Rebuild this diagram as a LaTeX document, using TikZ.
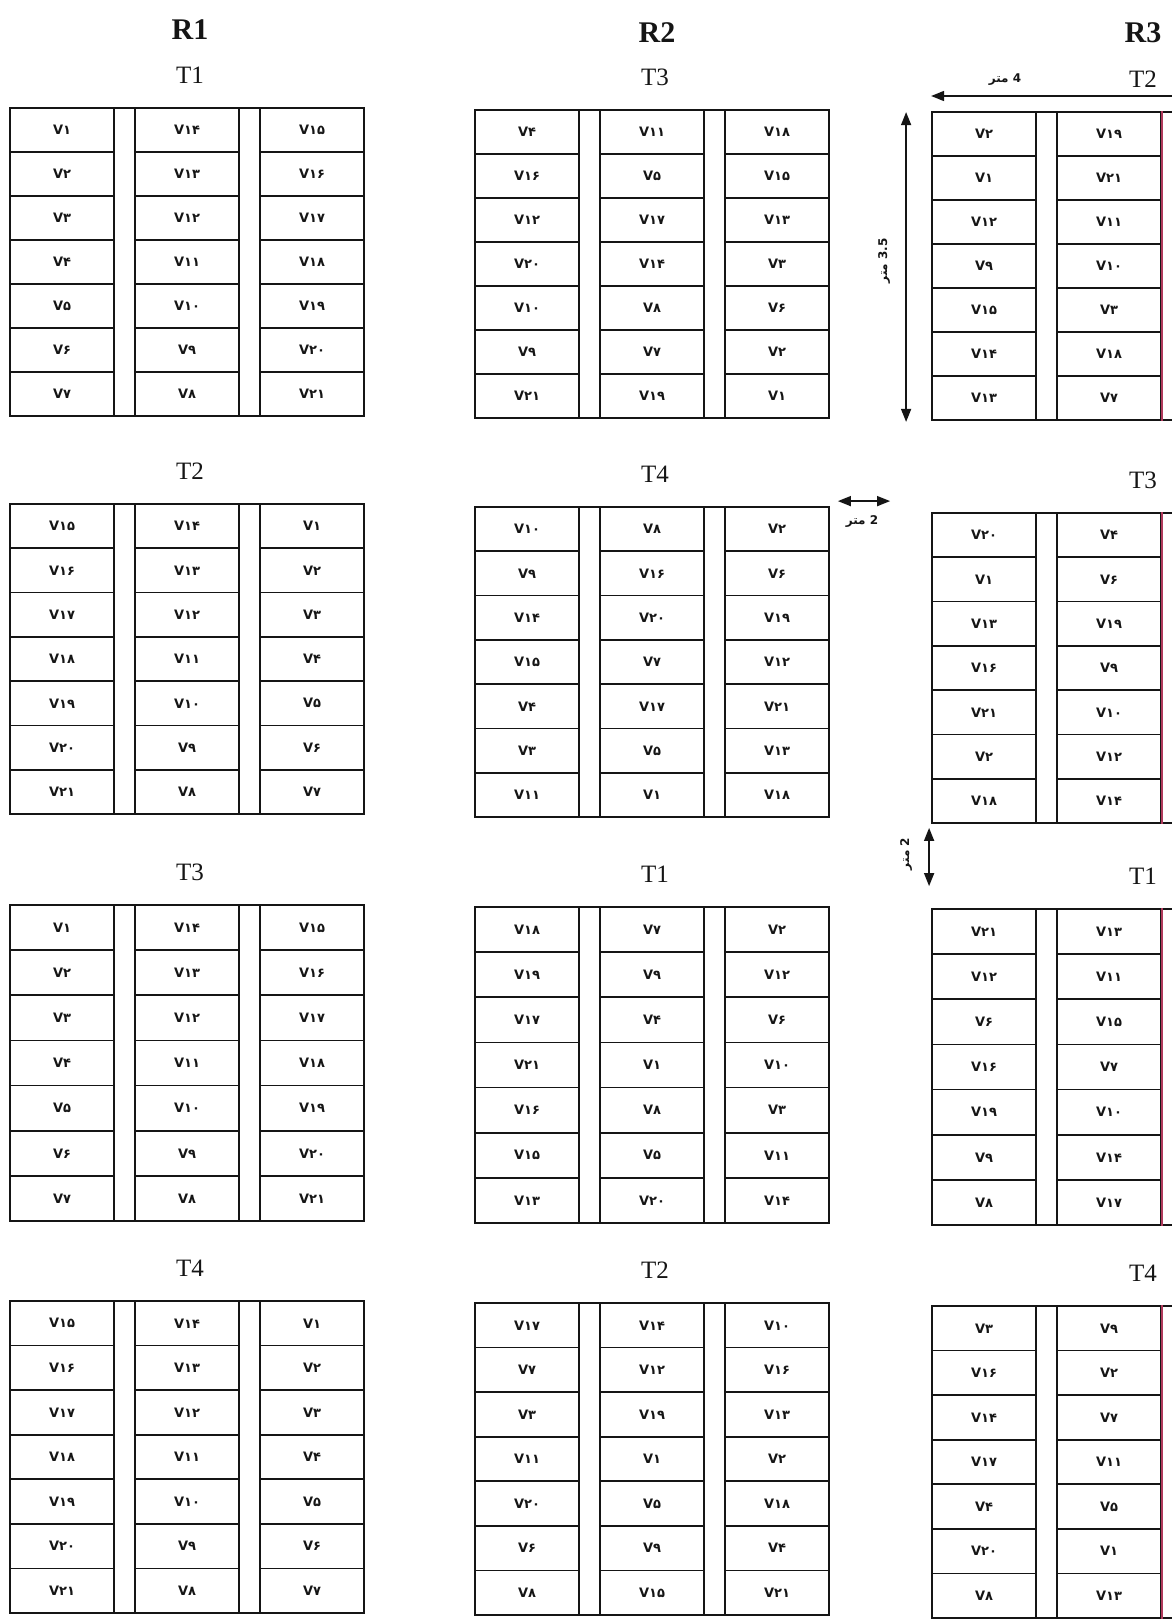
\documentclass[tikz,border=0pt]{standalone}
\usepackage{fontspec}
\setmainfont{Liberation Serif}
\newfontfamily\cellfont{DejaVu Sans}
\newfontfamily\arabicfont[Script=Arabic]{DejaVu Sans}
\TeXXeTstate=1
\usetikzlibrary{arrows.meta,positioning,calc}
\definecolor{ink}{HTML}{151515}
\definecolor{scanred}{HTML}{B03A5C}

% Persian digits for the cell numbers
\newcommand\fadig[1]{\ifcase#1 ۰\or ۱\or ۲\or ۳\or ۴\or ۵\or ۶\or ۷\or ۸\or ۹\fi}
\newcommand\fanum[1]{\ifnum#1>9 \fadig{\the\numexpr(#1-5)/10\relax}\fadig{\the\numexpr#1-10*((#1-5)/10)\relax}\else\fadig{#1}\fi}

% one plot: name, left x, top y, height, plot label, label x, cell numbers (column by column)
\newcommand\plotblock[7]{%
  \pgfmathsetmacro\rh{#4/7}
  \foreach \v [count=\i from 0] in {#7} {
    \pgfmathtruncatemacro\cc{\i/7}
    \pgfmathtruncatemacro\rr{mod(\i,7)}
    \node[cell, minimum height=\rh pt] (#1-\cc-\rr)
      at ({#2+\cc*125+52},{#3+(\rr+0.5)*\rh}) {V\fanum{\v}};
  }
  \draw[plotframe] (#2,#3) rectangle ++(354,#4);
  \node[plotlbl] (#1-t) at ({#6},{#3-33}) {#5};
}

\begin{document}
\begin{tikzpicture}[
    x=1pt, y=-1pt,
    font=\rmfamily,
    line width=1.8pt,
    >={Triangle[length=13pt,width=10pt]},
    cell/.style      = {draw=ink, line width=1.8pt, minimum width=104pt,
                        inner sep=0pt, text=ink,
                        font=\cellfont\bfseries\fontsize{13}{13}\selectfont},
    plotframe/.style = {draw=ink, line width=1.8pt},
    plotlbl/.style   = {text=ink, inner sep=0pt,
                        font=\rmfamily\fontsize{25}{25}\selectfont},
    replbl/.style    = {text=ink, inner sep=0pt,
                        font=\rmfamily\bfseries\fontsize{30}{30}\selectfont},
    dimline/.style   = {draw=ink, line width=1.5pt},
    dimlbl/.style    = {text=ink, inner sep=1pt,
                        font=\arabicfont\bfseries\fontsize{12}{12}\selectfont},
  ]

  \fill[white] (0,0) rectangle (1172,1620);
  \useasboundingbox (0,0) rectangle (1172,1620);
  \clip (0,0) rectangle (1172,1620);

  % ===================================================================
  % Replication titles
  % ===================================================================
  \node[replbl] (r1) at (190,30) {R1};
  \node[replbl] (r2) at (657,33) {R2};
  \node[replbl] (r3) at (1143,33) {R3};

  % ===================================================================
  % R1: four plots
  % ===================================================================
  \plotblock{r1a}{10}{108}{308}{T1}{190}{1,2,3,4,5,6,7,14,13,12,11,10,9,8,15,16,17,18,19,20,21}
  \plotblock{r1b}{10}{504}{310}{T2}{190}{15,16,17,18,19,20,21,14,13,12,11,10,9,8,1,2,3,4,5,6,7}
  \plotblock{r1c}{10}{905}{316}{T3}{190}{1,2,3,4,5,6,7,14,13,12,11,10,9,8,15,16,17,18,19,20,21}
  \plotblock{r1d}{10}{1301}{312}{T4}{190}{15,16,17,18,19,20,21,14,13,12,11,10,9,8,1,2,3,4,5,6,7}

  % ===================================================================
  % R2: four plots
  % ===================================================================
  \plotblock{r2a}{475}{110}{308}{T3}{655}{4,16,12,20,10,9,21,11,5,17,14,8,7,19,18,15,13,3,6,2,1}
  \plotblock{r2b}{475}{507}{310}{T4}{655}{10,9,14,15,4,3,11,8,16,20,7,17,5,1,2,6,19,12,21,13,18}
  \plotblock{r2c}{475}{907}{316}{T1}{655}{18,19,17,21,16,15,13,7,9,4,1,8,5,20,2,12,6,10,3,11,14}
  \plotblock{r2d}{475}{1303}{312}{T2}{655}{17,7,3,11,20,6,8,14,12,19,1,5,9,15,10,16,13,2,18,4,21}

  % ===================================================================
  % R3: four plots (cut at the right edge)
  % ===================================================================
  \plotblock{r3a}{932}{112}{308}{T2}{1143}{2,1,12,9,15,14,13,19,21,11,10,3,18,7}
  \plotblock{r3b}{932}{513}{310}{T3}{1143}{20,1,13,16,21,2,18,4,6,19,9,10,12,14}
  \plotblock{r3c}{932}{909}{316}{T1}{1143}{21,12,6,16,19,9,8,13,11,15,7,10,14,17}
  \plotblock{r3d}{932}{1306}{312}{T4}{1143}{3,16,14,17,4,20,8,9,2,7,11,5,1,13}

  \foreach \p in {r3a,r3b,r3c,r3d}
    \draw[scanred, line width=1.6pt] (\p-1-0.north east) -- (\p-1-6.south east);

  % ----- plot width: 4 m -----
  \coordinate (w4r) at (1172,96);
  \coordinate (w4l) at (r3a-0-0.west |- w4r);
  \draw[dimline,->] (w4r) -- (w4l);
  \node[dimlbl] (w4) at (1005,80) {\beginR 4 متر\endR};

  % ----- plot length: 3.5 m -----
  \coordinate (h35t) at ($(r3a-0-0.north west)+(-25,1)$);
  \coordinate (h35b) at ($(r3a-0-6.south west)+(-25,1)$);
  \draw[dimline,<->] (h35t) -- (h35b);
  \node[dimlbl, rotate=90] (h35) at ($(h35t)!0.48!(h35b)+(-22,0)$)
    {\beginR\beginL 3.5\endL{} متر\endR};

  % ----- 2 m between replications -----
  \coordinate (g2l) at ($(r2b-2-0.north east)+(8,-5)$);
  \coordinate (g2r) at ($(g2l -| r3b-0-0.west)+(-41,0)$);
  \draw[dimline,<->] (g2l) -- (g2r);
  \node[dimlbl] (g2) at ($(g2l)!0.5!(g2r)+(-2,20)$) {\beginR 2 متر\endR};

  % ----- 2 m between plots -----
  \coordinate (v2t) at ($(r3b-0-6.south west)+(-2,4)$);
  \coordinate (v2b) at ($(r3c-0-0.north west)+(-2,-22)$);
  \draw[dimline,<->] (v2t) -- (v2b);
  \node[dimlbl, rotate=90] (v2) at ($(v2t)!0.45!(v2b)+(-23,0)$)
    {\beginR 2 متر\endR};

\end{tikzpicture}
\end{document}
